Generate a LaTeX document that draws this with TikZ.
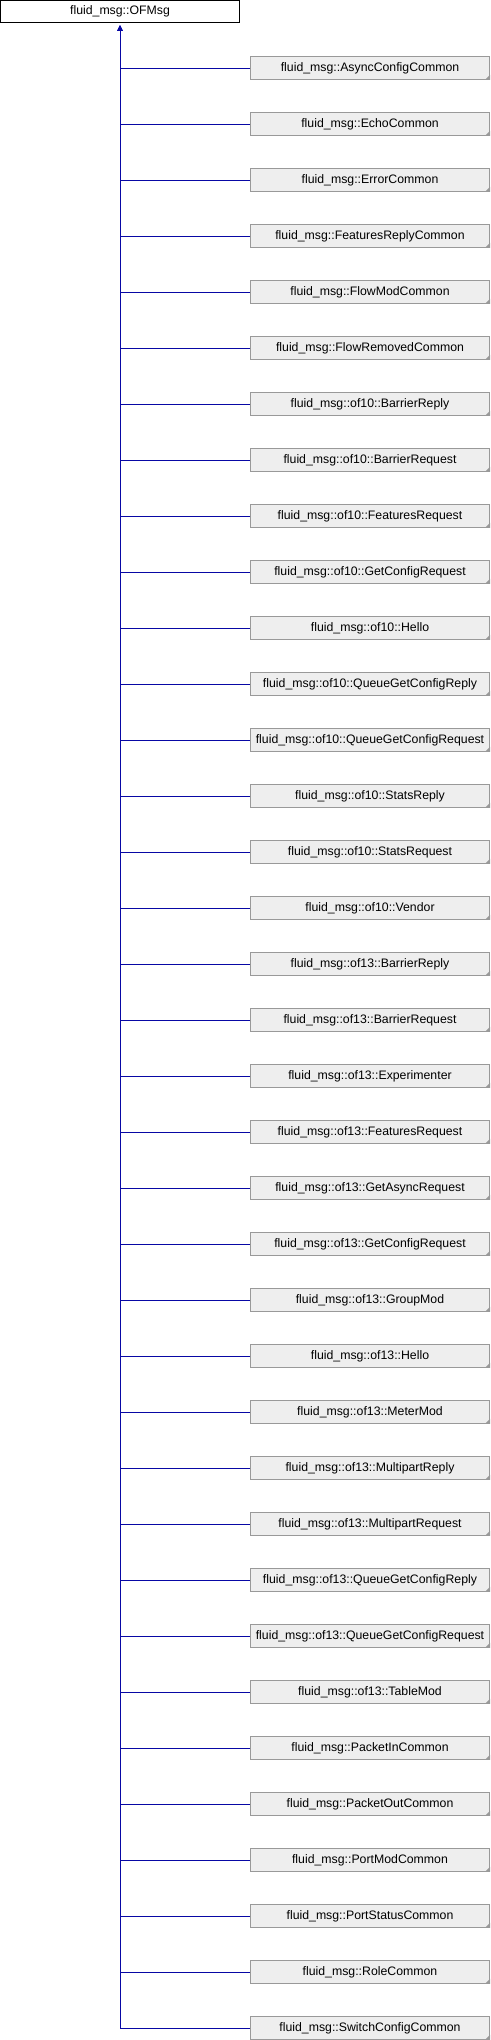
\documentclass[tikz,border=0pt]{standalone}
\usepackage{fontspec}
\setmainfont{Liberation Sans}
\usetikzlibrary{arrows.meta}
\definecolor{edgeblue}{RGB}{8,8,165}
\definecolor{boxfill}{RGB}{238,238,238}
\definecolor{boxline}{RGB}{153,153,153}
\tikzset{
  basebox/.style={draw=black, fill=white, line width=1pt, minimum width=239pt, minimum height=22.6pt, inner sep=0pt, font=\fontsize{12.3}{14}\selectfont},
  childbox/.style={draw=boxline, fill=boxfill, line width=1pt, minimum width=239pt, minimum height=22.6pt, inner sep=0pt, font=\fontsize{12.3}{14}\selectfont},
  edge/.style={draw=edgeblue, line width=1pt, -{Triangle[width=4.5pt,length=5pt]}, shorten >=2.5pt},
}
\begin{document}
\begin{tikzpicture}[x=1pt,y=-1pt]
\useasboundingbox (0,0) rectangle (490,2040);
\node[basebox] (base) at (120,11.5) {fluid\_msg::OFMsg};
\foreach \name [count=\i from 0] in {
fluid\_msg::AsyncConfigCommon,
fluid\_msg::EchoCommon,
fluid\_msg::ErrorCommon,
fluid\_msg::FeaturesReplyCommon,
fluid\_msg::FlowModCommon,
fluid\_msg::FlowRemovedCommon,
fluid\_msg::of10::BarrierReply,
fluid\_msg::of10::BarrierRequest,
fluid\_msg::of10::FeaturesRequest,
fluid\_msg::of10::GetConfigRequest,
fluid\_msg::of10::Hello,
fluid\_msg::of10::QueueGetConfigReply,
fluid\_msg::of10::QueueGetConfigRequest,
fluid\_msg::of10::StatsReply,
fluid\_msg::of10::StatsRequest,
fluid\_msg::of10::Vendor,
fluid\_msg::of13::BarrierReply,
fluid\_msg::of13::BarrierRequest,
fluid\_msg::of13::Experimenter,
fluid\_msg::of13::FeaturesRequest,
fluid\_msg::of13::GetAsyncRequest,
fluid\_msg::of13::GetConfigRequest,
fluid\_msg::of13::GroupMod,
fluid\_msg::of13::Hello,
fluid\_msg::of13::MeterMod,
fluid\_msg::of13::MultipartReply,
fluid\_msg::of13::MultipartRequest,
fluid\_msg::of13::QueueGetConfigReply,
fluid\_msg::of13::QueueGetConfigRequest,
fluid\_msg::of13::TableMod,
fluid\_msg::PacketInCommon,
fluid\_msg::PacketOutCommon,
fluid\_msg::PortModCommon,
fluid\_msg::PortStatusCommon,
fluid\_msg::RoleCommon,
fluid\_msg::SwitchConfigCommon}{
  \node[childbox] (c\i) at (370,68+56*\i) {\name};
  \fill[boxline] (c\i.south east) -- ++(-5,0) -- ++(5,-5) -- cycle;
  \draw[edge] (c\i.west) -| (base.south);
}
\end{tikzpicture}
\end{document}
